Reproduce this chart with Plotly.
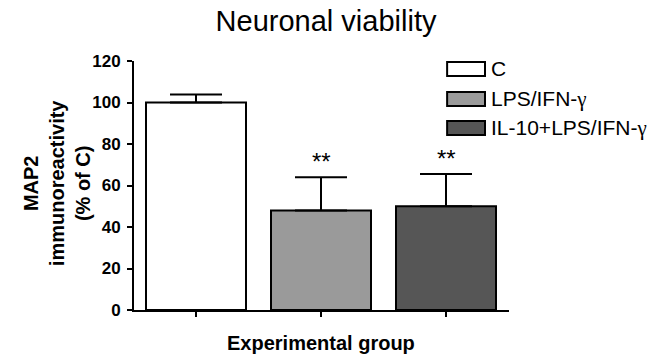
import plotly.graph_objects as go

categories = ["C", "LPS/IFN-γ", "IL-10+LPS/IFN-γ"]
GAMMA = "<span style=\"font-family:Liberation Serif\">γ</span>"
legend_labels = ["C", "LPS/IFN-" + GAMMA, "IL-10+LPS/IFN-" + GAMMA]
means = [100, 48, 50]
sems = [3.8, 16, 15.5]
signif = ["", "**", "**"]
colors = ["#ffffff", "#9a9a9a", "#565656"]
y_ticks = [0, 20, 40, 60, 80, 100, 120]

FONT = "Arial, 'Liberation Sans', Helvetica, sans-serif"

fig = go.Figure()
fig.add_trace(go.Bar(
    x=list(range(len(categories))), y=means,
    width=0.8,
    marker=dict(color=colors, line=dict(color="black", width=2)),
    error_y=dict(type="data", array=sems, arrayminus=[0] * len(sems), symmetric=False,
                 color="black", thickness=2, width=26),
    showlegend=False,
))

annotations = []
for i, (m, s, t) in enumerate(zip(means, sems, signif)):
    if t:
        annotations.append(dict(x=i, y=m + s, xref="x", yref="y", text=t, showarrow=False,
                                yanchor="bottom", yshift=0,
                                font=dict(family=FONT, size=24, color="black")))

# custom legend (large boxes, as in the reference)
leg_x0, leg_x1, leg_tx = 0.835, 0.936, 0.947
leg_rows = [(0.940, 0.996), (0.819, 0.876), (0.703, 0.759)]
shapes = []
for (y0, y1), c, lab in zip(leg_rows, colors, legend_labels):
    shapes.append(dict(type="rect", xref="paper", yref="paper", x0=leg_x0, x1=leg_x1, y0=y0, y1=y1,
                       fillcolor=c, line=dict(color="black", width=2)))
    annotations.append(dict(x=leg_tx, y=(y0 + y1) / 2, xref="paper", yref="paper", text=lab,
                            showarrow=False, xanchor="left", yanchor="middle",
                            font=dict(family=FONT, size=21, color="black")))

annotations.append(dict(x=-0.205, y=0.51, xref="paper", yref="paper",
                        text="MAP2<br>immunoreactivity<br>(% of C)", textangle=-90,
                        showarrow=False, xanchor="center", yanchor="middle",
                        font=dict(family=FONT, size=20, color="black", weight="bold")))
annotations.append(dict(x=0.499, y=-0.133, xref="paper", yref="paper",
                        text="Experimental group", showarrow=False,
                        xanchor="center", yanchor="middle",
                        font=dict(family=FONT, size=20, color="black", weight="bold")))

fig.update_layout(
    width=656, height=358,
    margin=dict(l=134, r=147, t=61, b=48),
    paper_bgcolor="white", plot_bgcolor="white",
    title=dict(text="Neuronal viability", x=0.497, xref="container", xanchor="center",
               y=0.941, yref="container", yanchor="middle",
               font=dict(family=FONT, size=29, color="black")),
    xaxis=dict(range=[-0.496, 2.504], tickmode="array", tickvals=list(range(len(categories))),
               showticklabels=False, ticks="outside", ticklen=5, tickwidth=2, tickcolor="black",
               showline=True, linecolor="black", linewidth=2, showgrid=False, zeroline=False,
               fixedrange=True),
    yaxis=dict(range=[0, 120], tickmode="array", tickvals=y_ticks, ticks="outside", ticklen=5,
               tickwidth=2, tickcolor="black", showline=True, linecolor="black", linewidth=2,
               showgrid=False, zeroline=False, ticklabelstandoff=3,
               tickfont=dict(family=FONT, size=17, color="black", weight="bold")),
    annotations=annotations,
    shapes=shapes,
)

fig.write_html("out.html", config={"displayModeBar": False},
               post_script="document.body.style.margin='0px';document.body.style.overflow='hidden';")
